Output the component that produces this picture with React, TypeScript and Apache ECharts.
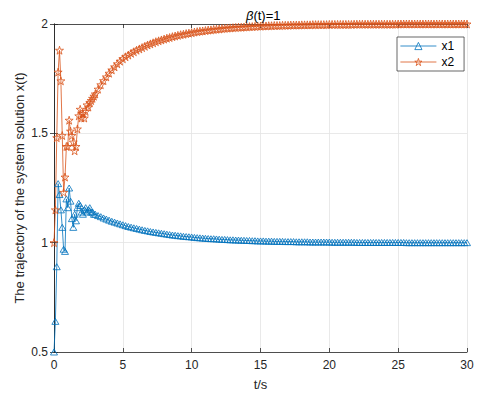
import React, { useEffect, useRef } from "react";
import * as echarts from "echarts";

// time samples (s)
const tEarly = [0, 0.1, 0.2, 0.3, 0.4, 0.5, 0.6, 0.7, 0.8, 0.9, 1.0, 1.1, 1.2, 1.3, 1.4, 1.5, 1.6, 1.7, 1.8, 1.9, 2.0, 2.1, 2.2, 2.3, 2.4, 2.5, 2.6, 2.7, 2.8, 2.9, 3.0];
const tTail = [
  3.2, 3.4, 3.6, 3.8, 4.0, 4.2, 4.4, 4.6, 4.8, 5.0,
  5.2, 5.4, 5.6, 5.8, 6.0, 6.2, 6.4, 6.6, 6.8, 7.0,
  7.2, 7.4, 7.6, 7.8, 8.0, 8.2, 8.4, 8.6, 8.8, 9.0,
  9.2, 9.4, 9.6, 9.8, 10.0, 10.2, 10.4, 10.6, 10.8, 11.0,
  11.2, 11.4, 11.6, 11.8, 12.0, 12.2, 12.4, 12.6, 12.8, 13.0,
  13.2, 13.4, 13.6, 13.8, 14.0, 14.2, 14.4, 14.6, 14.8, 15.0,
  15.2, 15.4, 15.6, 15.8, 16.0, 16.2, 16.4, 16.6, 16.8, 17.0,
  17.2, 17.4, 17.6, 17.8, 18.0, 18.2, 18.4, 18.6, 18.8, 19.0,
  19.2, 19.4, 19.6, 19.8, 20.0, 20.2, 20.4, 20.6, 20.8, 21.0,
  21.2, 21.4, 21.6, 21.8, 22.0, 22.2, 22.4, 22.6, 22.8, 23.0,
  23.2, 23.4, 23.6, 23.8, 24.0, 24.2, 24.4, 24.6, 24.8, 25.0,
  25.2, 25.4, 25.6, 25.8, 26.0, 26.2, 26.4, 26.6, 26.8, 27.0,
  27.2, 27.4, 27.6, 27.8, 28.0, 28.2, 28.4, 28.6, 28.8, 29.0,
  29.2, 29.4, 29.6, 29.8, 30.0,
];

const x1Early = [0.50, 0.64, 0.89, 1.27, 1.22, 1.15, 1.07, 0.97, 0.96, 1.20, 1.16, 1.25, 1.19, 1.11, 1.07, 1.13, 1.10, 1.16, 1.18, 1.17, 1.14, 1.13, 1.15, 1.16, 1.14, 1.15, 1.16, 1.14, 1.14, 1.13, 1.13];
const x1Tail = [
  1.124, 1.119, 1.113, 1.108, 1.103, 1.098, 1.094, 1.090, 1.086, 1.082,
  1.078, 1.074, 1.071, 1.068, 1.065, 1.062, 1.059, 1.056, 1.054, 1.051,
  1.049, 1.047, 1.045, 1.043, 1.041, 1.039, 1.037, 1.035, 1.034, 1.032,
  1.031, 1.029, 1.028, 1.027, 1.026, 1.024, 1.023, 1.022, 1.021, 1.020,
  1.019, 1.018, 1.018, 1.017, 1.016, 1.015, 1.015, 1.014, 1.013, 1.013,
  1.012, 1.012, 1.011, 1.011, 1.010, 1.010, 1.009, 1.009, 1.008, 1.008,
  1.008, 1.007, 1.007, 1.007, 1.006, 1.006, 1.006, 1.006, 1.005, 1.005,
  1.005, 1.005, 1.004, 1.004, 1.004, 1.004, 1.004, 1.003, 1.003, 1.003,
  1.003, 1.003, 1.003, 1.003, 1.003, 1.002, 1.002, 1.002, 1.002, 1.002,
  1.002, 1.002, 1.002, 1.002, 1.001, 1.001, 1.001, 1.001, 1.001, 1.001,
  1.001, 1.001, 1.001, 1.001, 1.001, 1.001, 1.001, 1.001, 1.001, 1.001,
  1.001, 1.001, 1.000, 1.000, 1.000, 1.000, 1.000, 1.000, 1.000, 1.000,
  1.000, 1.000, 1.000, 1.000, 1.000, 1.000, 1.000, 1.000, 1.000, 1.000,
  1.000, 1.000, 1.000, 1.000, 1.000,
];

const x2Early = [1.00, 1.15, 1.48, 1.78, 1.88, 1.74, 1.49, 1.23, 1.30, 1.44, 1.44, 1.56, 1.51, 1.49, 1.46, 1.42, 1.44, 1.52, 1.58, 1.61, 1.57, 1.59, 1.57, 1.60, 1.63, 1.62, 1.64, 1.65, 1.66, 1.67, 1.68];
const x2Tail = [
  1.702, 1.722, 1.741, 1.758, 1.775, 1.790, 1.804, 1.818, 1.830, 1.841,
  1.850, 1.858, 1.866, 1.873, 1.880, 1.886, 1.892, 1.898, 1.904, 1.909,
  1.914, 1.919, 1.923, 1.927, 1.931, 1.935, 1.938, 1.942, 1.945, 1.948,
  1.951, 1.953, 1.956, 1.958, 1.960, 1.963, 1.965, 1.967, 1.968, 1.970,
  1.972, 1.973, 1.975, 1.976, 1.977, 1.979, 1.980, 1.981, 1.982, 1.983,
  1.984, 1.985, 1.985, 1.986, 1.987, 1.988, 1.988, 1.989, 1.990, 1.990,
  1.991, 1.991, 1.992, 1.992, 1.993, 1.993, 1.993, 1.994, 1.994, 1.994,
  1.995, 1.995, 1.995, 1.995, 1.996, 1.996, 1.996, 1.996, 1.997, 1.997,
  1.997, 1.997, 1.997, 1.997, 1.998, 1.998, 1.998, 1.998, 1.998, 1.998,
  1.998, 1.998, 1.998, 1.999, 1.999, 1.999, 1.999, 1.999, 1.999, 1.999,
  1.999, 1.999, 1.999, 1.999, 1.999, 1.999, 1.999, 1.999, 1.999, 2.000,
  2.000, 2.000, 2.000, 2.000, 2.000, 2.000, 2.000, 2.000, 2.000, 2.000,
  2.000, 2.000, 2.000, 2.000, 2.000, 2.000, 2.000, 2.000, 2.000, 2.000,
  2.000, 2.000, 2.000, 2.000, 2.000,
];

const seriesNames = ["x1", "x2"];
const titleText = "{b|β}(t)=1";
const xName = "t/s";
const yName = "The trajectory of the system solution x(t)";

const BLUE = "#0072BD";
const ORANGE = "#D95319";
const AXIS = "#262626";
const FONT = "'Liberation Sans', Arial, Helvetica, sans-serif";
const TRI = "path://M5,0L10,9L0,9Z";
const STAR = "path://M100,0L122,69L195,69L136,112L159,181L100,138L41,181L64,112L5,69L78,69Z";
const HOLLOW = "rgba(255,255,255,0)";

export default function App() {
  const ref = useRef<HTMLDivElement>(null);
  useEffect(() => {
    document.body.style.margin = "0";
    const chart = echarts.init(ref.current!, null, { renderer: "svg" });
    const time = [...tEarly, ...tTail];
    const x1 = [...x1Early, ...x1Tail];
    const x2 = [...x2Early, ...x2Tail];
    const line = { show: true, lineStyle: { color: AXIS, width: 0.8 } };
    const tick = { show: true, inside: true, length: 4, lineStyle: { color: AXIS, width: 0.8 } };
    const grid = { show: true, lineStyle: { color: "#e3e3e3", width: 0.8 } };
    chart.setOption({
      animation: false,
      backgroundColor: "#fff",
      textStyle: { fontFamily: FONT },
      title: {
        text: titleText,
        left: 241,
        top: 4,
        textStyle: {
          fontFamily: FONT,
          fontSize: 13,
          fontWeight: "normal",
          color: "#000",
          rich: { b: { fontFamily: FONT, fontSize: 13, fontStyle: "italic", color: "#000" } },
        },
      },
      grid: { left: 54, right: 20, top: 24, bottom: 44, containLabel: false },
      legend: {
        data: [
          { name: seriesNames[0], itemStyle: { color: HOLLOW, borderColor: BLUE, borderWidth: 0.8 }, lineStyle: { color: BLUE, width: 0.8 } },
          { name: seriesNames[1], itemStyle: { color: HOLLOW, borderColor: ORANGE, borderWidth: 0.8 }, lineStyle: { color: ORANGE, width: 0.8 } },
        ],
        orient: "vertical",
        left: 397,
        top: 37,
        itemWidth: 36,
        itemHeight: 9,
        itemGap: 4,
        padding: [3, 10, 3, 3],
        borderColor: AXIS,
        borderWidth: 0.7,
        backgroundColor: "#fff",
        textStyle: { fontFamily: FONT, fontSize: 12, color: "#000" },
      },
      xAxis: [
        {
          type: "value", min: 0, max: 30, interval: 5, position: "bottom",
          axisLine: line, axisTick: tick, splitLine: grid,
          axisLabel: { color: AXIS, fontSize: 12, margin: 7, fontFamily: FONT },
          name: xName, nameLocation: "middle", nameGap: 26, nameMoveOverlap: false,
          nameTextStyle: { color: AXIS, fontSize: 13, fontFamily: FONT },
        },
        {
          type: "value", min: 0, max: 30, interval: 5, position: "top",
          axisLine: line, axisTick: tick, splitLine: { show: false }, axisLabel: { show: false },
        },
      ],
      yAxis: [
        {
          type: "value", min: 0.5, max: 2, interval: 0.5, position: "left",
          axisLine: line, axisTick: tick, splitLine: grid,
          axisLabel: { color: AXIS, fontSize: 12, margin: 6, fontFamily: FONT },
          name: yName, nameLocation: "middle", nameGap: 28, nameMoveOverlap: false,
          nameTextStyle: { color: AXIS, fontSize: 13, fontFamily: FONT },
        },
        {
          type: "value", min: 0.5, max: 2, interval: 0.5, position: "right",
          axisLine: line, axisTick: tick, splitLine: { show: false }, axisLabel: { show: false },
        },
      ],
      series: [
        {
          name: seriesNames[0], type: "line", xAxisIndex: 0, yAxisIndex: 0,
          data: time.map((t, i) => [t, x1[i]]),
          symbol: TRI, symbolSize: [7, 6], showAllSymbol: true, clip: false,
          lineStyle: { color: BLUE, width: 0.8 },
          itemStyle: { color: HOLLOW, borderColor: BLUE, borderWidth: 0.8 },
          emphasis: { disabled: true },
        },
        {
          name: seriesNames[1], type: "line", xAxisIndex: 0, yAxisIndex: 0,
          data: time.map((t, i) => [t, x2[i]]),
          symbol: STAR, symbolSize: [8, 8], showAllSymbol: true, clip: false,
          lineStyle: { color: ORANGE, width: 0.8 },
          itemStyle: { color: HOLLOW, borderColor: ORANGE, borderWidth: 0.8 },
          emphasis: { disabled: true },
        },
      ],
    });
    return () => chart.dispose();
  }, []);
  return <div ref={ref} style={{ width: 487, height: 396 }} />;
}
